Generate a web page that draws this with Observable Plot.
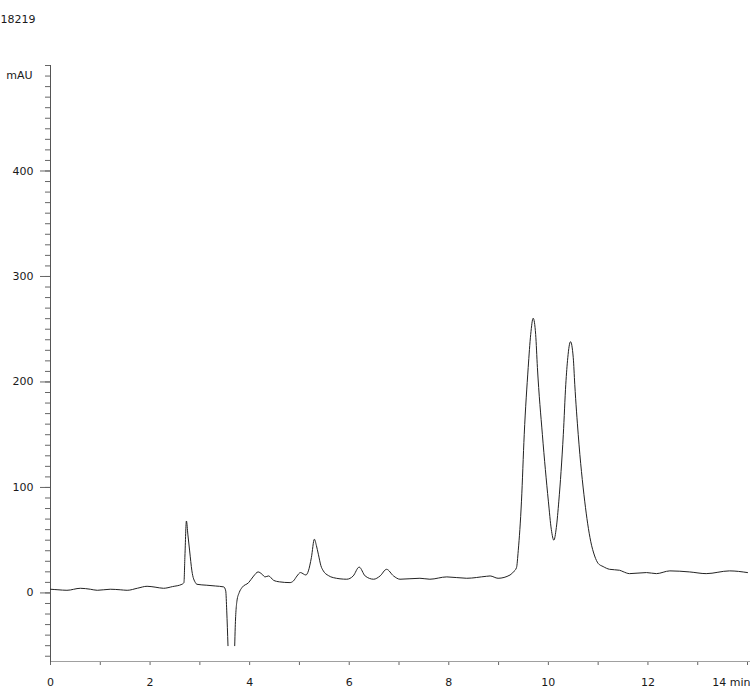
<!DOCTYPE html>
<html><head><meta charset="utf-8">
<script src="https://cdn.jsdelivr.net/npm/d3@7"></script>
<script src="https://cdn.jsdelivr.net/npm/@observablehq/plot@0.6"></script>
<style>html,body{margin:0;padding:0;background:#fff}svg{display:block}</style>
</head><body><div id="chart"></div>
<script>
const sampleId = "18219";
const yUnit = "mAU";
const times = [
  0.00, 0.15, 0.33, 0.60, 0.80, 0.94, 1.20, 1.40, 1.54, 1.75, 1.94, 2.10, 2.27, 2.45, 2.64,
  2.68, 2.70, 2.73, 2.76, 2.795, 2.84, 2.91, 2.94, 3.14, 3.31, 3.48, 3.52, 3.54, 3.565,
  3.63,
  3.70, 3.71, 3.745, 3.79, 3.845, 3.98, 4.08, 4.17, 4.25, 4.31, 4.38, 4.48, 4.60, 4.81, 4.88,
  4.95, 5.02, 5.13, 5.18, 5.24, 5.30, 5.34, 5.38, 5.43, 5.48, 5.58, 5.68, 5.95, 6.08, 6.20,
  6.32, 6.49, 6.62, 6.75, 6.89, 7.02, 7.42, 7.62, 7.96, 8.36, 8.76, 8.83, 8.99, 9.23, 9.30,
  9.36, 9.395, 9.46, 9.515, 9.595, 9.645, 9.695, 9.745, 9.78, 9.88, 10.00, 10.06, 10.11, 10.16,
  10.21, 10.30, 10.35, 10.39, 10.445, 10.50, 10.53, 10.60, 10.73, 10.85, 10.93, 11.00, 11.10,
  11.23, 11.43, 11.50, 11.63, 11.97, 12.17, 12.44, 12.84, 13.17, 13.64, 14.00
];
const values = [
  3.5, 3.0, 2.5, 4.4, 3.5, 2.5, 3.5, 3.0, 2.5, 4.5, 6.3, 5.5, 4.4, 6.0, 8.2,
  9.8, 35, 68.2, 55, 39.8, 20.9, 9.8, 8.2, 7.3, 6.6, 5.7, 1.9, -17, -50,
  NaN,
  -50, -33, -7.6, 0.3, 5, 9.8, 16, 19.9, 17.7, 15.2, 16.1, 12, 10.5, 9.8, 11.4,
  16, 19.3, 17, 20.9, 33.5, 50.9, 45, 36.7, 26, 20.9, 16.5, 14.5, 13, 16.1, 24.5,
  16.1, 13, 16.1, 22.4, 16.1, 13, 13.9, 13, 15.2, 13.9, 15.8, 16.1, 13.9, 17, 20,
  24, 40, 87, 150, 213.6, 245, 260.4, 245, 213.6, 150, 87, 60, 50, 62,
  87, 150, 197.8, 223, 238.2, 223, 197.8, 150, 87, 49, 35, 28, 25,
  22.4, 21.5, 20.2, 18.3, 19.3, 18.3, 20.9, 19.9, 18.3, 20.9, 19.3
];
const yMajorTicks = [0, 100, 200, 300, 400];
const yMinorTicks = d3.range(-60, 501, 10);
const xMinorTicks = d3.range(0, 15, 1);
const xLabelTicks = [0, 2, 4, 6, 8, 10, 12];
const xLastLabel = "14 min";

const data = times.map((t, i) => ({t, v: values[i]}));

const chart = Plot.plot({
  width: 750,
  height: 688,
  marginLeft: 50,
  marginRight: 0,
  marginTop: 65,
  marginBottom: 27,
  x: {domain: [0, 14.06], label: null},
  y: {domain: [-65, 500], label: null},
  style: {fontFamily: "'DejaVu Sans', Verdana, sans-serif", fontSize: "11px", color: "#1a1a1a", background: "#fff"},
  marks: [
    Plot.axisY({ticks: yMinorTicks, tickSize: 5, tickFormat: () => "", stroke: "#666", label: null}),
    Plot.axisY({ticks: yMajorTicks, tickSize: 10, tickPadding: 7, stroke: "#666", label: null}),
    Plot.axisX({ticks: xMinorTicks, tickSize: 4, tickFormat: () => "", stroke: "#666", label: null}),
    Plot.axisX({ticks: xLabelTicks, tickSize: 0, tickPadding: 17, label: null}),
    Plot.text([xLastLabel], {frameAnchor: "bottom-right", textAnchor: "end", lineAnchor: "top", dy: 17, dx: 0, fill: "#1a1a1a"}),
    Plot.frame({anchor: "bottom", stroke: "#a0a0a0"}),
    Plot.frame({anchor: "left", stroke: "#555"}),
    Plot.text([yUnit], {frameAnchor: "top-left", dx: -18, dy: 6, textAnchor: "end", fill: "#1a1a1a"}),
    Plot.text([sampleId], {frameAnchor: "top-left", dx: -50, dy: -50, textAnchor: "start", fill: "#1a1a1a"}),
    Plot.line(data, {x: "t", y: "v", curve: "monotone-x", stroke: "#222", strokeWidth: 1})
  ]
});
document.getElementById("chart").appendChild(chart);
</script>
</body></html>
